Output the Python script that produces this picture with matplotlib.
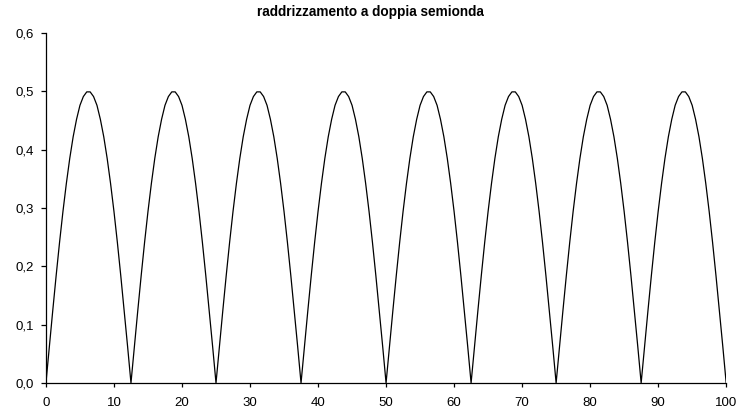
import matplotlib
matplotlib.use("Agg")
import matplotlib.pyplot as plt
from matplotlib.ticker import FuncFormatter, MultipleLocator

plt.rcParams['font.family'] = ['Liberation Sans', 'DejaVu Sans']

# x sampled every 0.5 from 0 to 100
x_step = 0.5
x_values = [i * x_step for i in range(201)]

# output voltage, 8 half-waves
y_values = [
    0.000, 0.063, 0.124, 0.184, 0.241, 0.294, 0.342, 0.385, 0.422, 0.452, 0.476, 0.491, 0.499,
    0.499, 0.491, 0.476, 0.452, 0.422, 0.385, 0.342, 0.294, 0.241, 0.184, 0.124, 0.063,
    0.000, 0.063, 0.124, 0.184, 0.241, 0.294, 0.342, 0.385, 0.422, 0.452, 0.476, 0.491, 0.499,
    0.499, 0.491, 0.476, 0.452, 0.422, 0.385, 0.342, 0.294, 0.241, 0.184, 0.124, 0.063,
    0.000, 0.063, 0.124, 0.184, 0.241, 0.294, 0.342, 0.385, 0.422, 0.452, 0.476, 0.491, 0.499,
    0.499, 0.491, 0.476, 0.452, 0.422, 0.385, 0.342, 0.294, 0.241, 0.184, 0.124, 0.063,
    0.000, 0.063, 0.124, 0.184, 0.241, 0.294, 0.342, 0.385, 0.422, 0.452, 0.476, 0.491, 0.499,
    0.499, 0.491, 0.476, 0.452, 0.422, 0.385, 0.342, 0.294, 0.241, 0.184, 0.124, 0.063,
    0.000, 0.063, 0.124, 0.184, 0.241, 0.294, 0.342, 0.385, 0.422, 0.452, 0.476, 0.491, 0.499,
    0.499, 0.491, 0.476, 0.452, 0.422, 0.385, 0.342, 0.294, 0.241, 0.184, 0.124, 0.063,
    0.000, 0.063, 0.124, 0.184, 0.241, 0.294, 0.342, 0.385, 0.422, 0.452, 0.476, 0.491, 0.499,
    0.499, 0.491, 0.476, 0.452, 0.422, 0.385, 0.342, 0.294, 0.241, 0.184, 0.124, 0.063,
    0.000, 0.063, 0.124, 0.184, 0.241, 0.294, 0.342, 0.385, 0.422, 0.452, 0.476, 0.491, 0.499,
    0.499, 0.491, 0.476, 0.452, 0.422, 0.385, 0.342, 0.294, 0.241, 0.184, 0.124, 0.063,
    0.000, 0.063, 0.124, 0.184, 0.241, 0.294, 0.342, 0.385, 0.422, 0.452, 0.476, 0.491, 0.499,
    0.499, 0.491, 0.476, 0.452, 0.422, 0.385, 0.342, 0.294, 0.241, 0.184, 0.124, 0.063,
    0.000,
]

title = "raddrizzamento a doppia semionda"

fig = plt.figure(figsize=(7.41, 4.12), dpi=100)
ax = fig.add_axes([0.062, 0.0704, 0.918, 0.8496])

ax.plot(x_values, y_values, color='black', linewidth=0.9)

ax.set_xlim(0, 100)
ax.set_ylim(0, 0.6)
ax.xaxis.set_major_locator(MultipleLocator(10))
ax.yaxis.set_major_locator(MultipleLocator(0.1))
ax.yaxis.set_major_formatter(FuncFormatter(lambda v, p: f"{v:.1f}".replace('.', ',')))

for s in ['top', 'right']:
    ax.spines[s].set_visible(False)
for s in ['left', 'bottom']:
    ax.spines[s].set_linewidth(0.9)

ax.tick_params(direction='out', width=0.9, labelsize=9.5)
ax.tick_params(axis='x', length=2.8, pad=7)
ax.tick_params(axis='y', length=3.5, pad=5)

fig.text(0.5, 0.97, title, ha='center', va='center', fontsize=9.8, fontweight='bold')

fig.savefig('out.png', dpi=100)
